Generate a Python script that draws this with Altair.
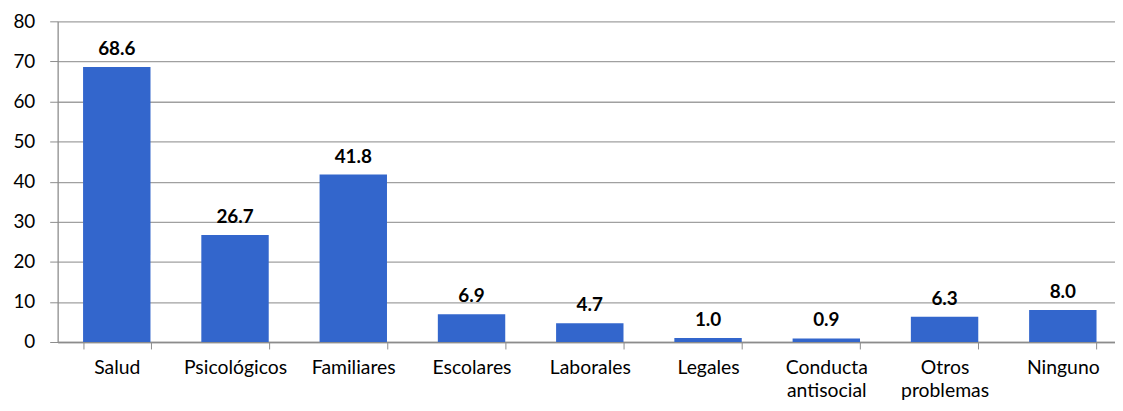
import altair as alt
import pandas as pd

categorias = ["Salud", "Psicológicos", "Familiares", "Escolares", "Laborales",
              "Legales", "Conducta|antisocial", "Otros|problemas", "Ninguno"]
valores = [68.6, 26.7, 41.8, 6.9, 4.7, 1.0, 0.9, 6.3, 8.0]

df = pd.DataFrame({"cat": categorias, "val": valores})

FONT = "Lato"

x = alt.X("cat:N", sort=categorias, title=None,
          scale=alt.Scale(paddingInner=0.43, paddingOuter=0.215),
          axis=alt.Axis(labelAngle=0, labelFont=FONT, labelFontSize=19.5,
                        labelColor="#000000", labelPadding=10,
                        labelExpr="split(datum.label, '|')",
                        labelLineHeight=23, labelBaseline="top",
                        tickBand="extent", tickSize=7, tickColor="#8c8c8c",
                        domainColor="#8c8c8c", domainWidth=1.3, grid=False))
y = alt.Y("val:Q", title=None,
          scale=alt.Scale(domain=[0, 80], nice=False),
          axis=alt.Axis(values=list(range(0, 81, 10)), labelFont=FONT,
                        labelFontSize=19, labelColor="#000000", labelPadding=15,
                        tickSize=8, tickColor="#8c8c8c", domainColor="#8c8c8c",
                        domainWidth=1.3, gridColor="#a0a0a0", gridWidth=1.3))

base = alt.Chart(df)
bars = base.mark_bar(color="#3366CC").encode(x=x, y=y)
labels = base.mark_text(font=FONT, fontSize=19, fontWeight="bold",
                        baseline="bottom", dy=-8, color="#000000").encode(
    x=alt.X("cat:N", sort=categorias),
    y=alt.Y("val:Q"),
    text=alt.Text("val:Q", format=".1f"))

chart = (bars + labels).properties(
    width=1072, height=323,
    autosize=alt.AutoSizeParams(type="none"),
    padding={"left": 50, "top": 12, "right": -7, "bottom": 60},
).configure(background="#ffffff").configure_view(stroke="transparent", strokeWidth=0)

chart.save("out.html", embed_options={"renderer": "svg", "actions": False})
